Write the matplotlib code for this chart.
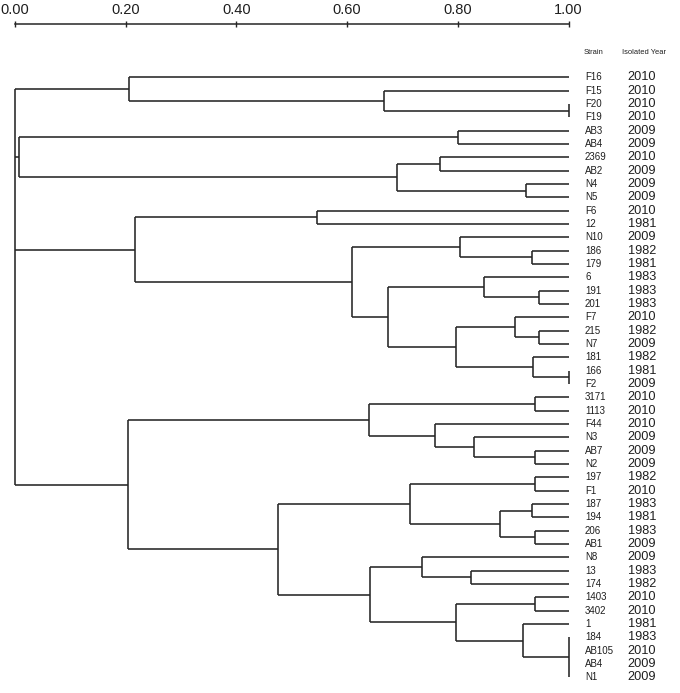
import matplotlib
matplotlib.use("Agg")
import matplotlib.pyplot as plt

# ---------------- data ----------------
strains = ["F16", "F15", "F20", "F19", "AB3", "AB4", "2369", "AB2", "N4", "N5",
           "F6", "12", "N10", "186", "179", "6", "191", "201", "F7", "215",
           "N7", "181", "166", "F2", "3171", "1113", "F44", "N3", "AB7", "N2",
           "197", "F1", "187", "194", "206", "AB1", "N8", "13", "174", "1403",
           "3402", "1", "184", "AB105", "AB4", "N1"]
years = ["2010", "2010", "2010", "2010", "2009", "2009", "2010", "2009", "2009", "2009",
         "2010", "1981", "2009", "1982", "1981", "1983", "1983", "1983", "2010", "1982",
         "2009", "1982", "1981", "2009", "2010", "2010", "2010", "2009", "2009", "2009",
         "1982", "2010", "1983", "1981", "1983", "2009", "2009", "1983", "1982", "2010",
         "2010", "1981", "1983", "2010", "2009", "2009"]

# tree: (similarity, [children]); leaves are strain names in display order
tree = (0.000, [
    (0.206, ["F16", (0.667, ["F15", (1.000, ["F20", "F19"])])]),
    (0.007, [(0.800, ["AB3", "AB4"]),
             (0.691, [(0.768, ["2369", "AB2"]), (0.923, ["N4", "N5"])])]),
    (0.216, [(0.545, ["F6", "12"]),
             (0.609, [(0.804, ["N10", (0.934, ["186", "179"])]),
                      (0.673, [(0.847, ["6", (0.947, ["191", "201"])]),
                               (0.797, [(0.904, ["F7", (0.947, ["215", "N7"])]),
                                        (0.936, ["181", (1.000, ["166", "F2"])])])])])]),
    (0.205, [(0.640, [(0.940, ["3171", "1113"]),
                      (0.759, ["F44", (0.829, ["N3", (0.940, ["AB7", "N2"])])])]),
             (0.475, [(0.714, [(0.940, ["197", "F1"]),
                               (0.876, [(0.934, ["187", "194"]), (0.940, ["206", "AB1"])])]),
                      (0.641, [(0.736, ["N8", (0.824, ["13", "174"])]),
                               (0.797, [(0.940, ["1403", "3402"]),
                                        (0.917, ["1", (1.000, ["184", "AB105", "AB4", "N1"])])])])])]),
])

scale_ticks = [0.0, 0.2, 0.4, 0.6, 0.8, 1.0]
scale_labels = ["0.00", "0.20", "0.40", "0.60", "0.80", "1.00"]

# ---------------- layout ----------------
W, H = 680, 693
X0, X1 = 15.0, 568.5          # pixel x of similarity 0 and 1
Y0, DY = 77.3, 13.333         # pixel y of first leaf, leaf spacing
LINE = "#262626"
TXT = "#1e1e1e"

fig = plt.figure(figsize=(W / 100, H / 100), dpi=100)
fig.patch.set_facecolor("white")
ax = fig.add_axes([0, 0, 1, 1])
sx = X1 - X0
ax.set_xlim(-X0 / sx, (W - X0) / sx)
ax.set_ylim((H - Y0) / DY, -Y0 / DY)
ax.axis("off")


def px2x(px):
    return (px - X0) / sx


def px2y(py):
    return (py - Y0) / DY


counter = [0]


def draw(node):
    if isinstance(node, str):
        i = counter[0]
        counter[0] += 1
        return 1.0, float(i)
    h, children = node
    pts = [draw(c) for c in children]
    ys = [p[1] for p in pts]
    ax.plot([h, h], [min(ys), max(ys)], color=LINE, lw=1.15, solid_capstyle="butt")
    for (cx, cy) in pts:
        ax.plot([h, cx], [cy, cy], color=LINE, lw=1.15, solid_capstyle="butt")
    return h, (min(ys) + max(ys)) / 2


draw(tree)

txt_font = ["Liberation Sans", "DejaVu Sans"]
for i, (s, yr) in enumerate(zip(strains, years)):
    ax.text(px2x(585), i, s, fontsize=7.0, family=txt_font, color=TXT,
            ha="left", va="center")
    ax.text(px2x(642), i, yr, fontsize=9.2, family=txt_font, color=TXT,
            ha="center", va="center")

ax.text(px2x(584), px2y(52.5), "Strain", fontsize=5.4, family=txt_font,
        color=TXT, ha="left", va="center")
ax.text(px2x(622), px2y(52.5), "Isolated Year", fontsize=5.4, family=txt_font,
        color=TXT, ha="left", va="center")

# scale bar at the top
sa = fig.add_axes([X0 / W, 1 - 24.0 / H, sx / W, 1e-5])
sa.set_xlim(0, 1)
sa.set_yticks([])
for side in ("left", "right", "bottom"):
    sa.spines[side].set_visible(False)
sa.spines["top"].set_color(LINE)
sa.spines["top"].set_linewidth(1.1)
sa.xaxis.tick_top()
sa.set_xticks(scale_ticks)
sa.set_xticklabels(scale_labels, family=txt_font, fontsize=10.5, color=TXT)
sa.tick_params(axis="x", direction="inout", length=5, width=1.0, color=LINE, pad=2.5)
sa.patch.set_alpha(0)

fig.savefig("out.png", dpi=100, facecolor="white")
